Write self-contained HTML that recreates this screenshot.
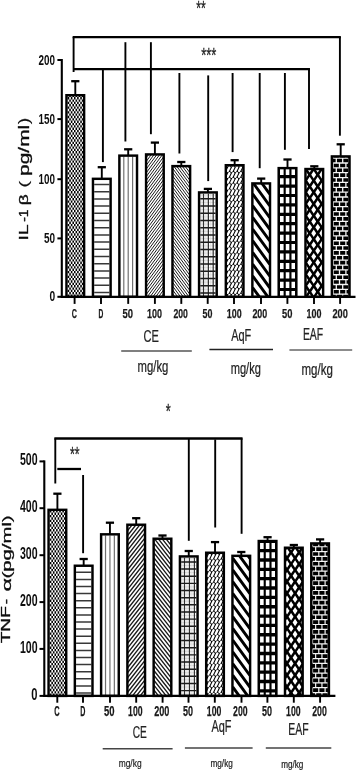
<!DOCTYPE html>
<html lang="en"><head><meta charset="utf-8"><title>IL-1β and TNF-α levels</title>
<style>html,body{margin:0;padding:0;background:#fff;}body{width:358px;height:773px;overflow:hidden;}svg{display:block;}text{font-family:"Liberation Sans", Arial, sans-serif;}</style>
</head><body>
<svg width="358" height="773" viewBox="0 0 358 773">
<defs><filter id="soft" x="0" y="0" width="358" height="773" filterUnits="userSpaceOnUse"><feGaussianBlur stdDeviation="0.5"/></filter><filter id="soft2" x="0" y="0" width="358" height="773" filterUnits="userSpaceOnUse"><feGaussianBlur stdDeviation="0.33"/></filter></defs>
<rect width="358" height="773" fill="#fff"/>
<g filter="url(#soft2)">
<rect x="65.25" y="94.00" width="20.10" height="202.80" fill="#fff"/>
<clipPath id="c1"><rect x="66.70" y="95.45" width="17.20" height="201.35"/></clipPath>
<g clip-path="url(#c1)">
<path d="M68.48,296.80V91.75 M71.62,296.80V91.75 M74.76,296.80V91.75 M77.90,296.80V91.75 M81.04,296.80V91.75" stroke="#000" stroke-width="1.57" stroke-dasharray="2.35 2.35" fill="none"/>
<path d="M70.05,296.80V91.75 M73.19,296.80V91.75 M76.33,296.80V91.75 M79.47,296.80V91.75 M82.61,296.80V91.75" stroke="#000" stroke-width="1.57" stroke-dasharray="2.35 2.35" stroke-dashoffset="2.35" fill="none"/>
</g>
<rect x="91.75" y="177.60" width="20.10" height="119.20" fill="#fff"/>
<rect x="118.15" y="154.40" width="20.10" height="142.40" fill="#fff"/>
<rect x="144.85" y="153.20" width="20.10" height="143.60" fill="#fff"/>
<clipPath id="c4"><rect x="146.30" y="154.65" width="17.20" height="142.15"/></clipPath>
<g clip-path="url(#c4)">
<path d="M146.30,153.76L163.50,130.41 M146.30,157.56L163.50,134.21 M146.30,161.36L163.50,138.01 M146.30,165.16L163.50,141.81 M146.30,168.96L163.50,145.61 M146.30,172.76L163.50,149.41 M146.30,176.56L163.50,153.21 M146.30,180.36L163.50,157.01 M146.30,184.16L163.50,160.81 M146.30,187.96L163.50,164.61 M146.30,191.76L163.50,168.41 M146.30,195.56L163.50,172.21 M146.30,199.36L163.50,176.01 M146.30,203.16L163.50,179.81 M146.30,206.96L163.50,183.61 M146.30,210.76L163.50,187.41 M146.30,214.56L163.50,191.21 M146.30,218.36L163.50,195.01 M146.30,222.16L163.50,198.81 M146.30,225.96L163.50,202.61 M146.30,229.76L163.50,206.41 M146.30,233.56L163.50,210.21 M146.30,237.36L163.50,214.01 M146.30,241.16L163.50,217.81 M146.30,244.96L163.50,221.61 M146.30,248.76L163.50,225.41 M146.30,252.56L163.50,229.21 M146.30,256.36L163.50,233.01 M146.30,260.16L163.50,236.81 M146.30,263.96L163.50,240.61 M146.30,267.76L163.50,244.41 M146.30,271.56L163.50,248.21 M146.30,275.36L163.50,252.01 M146.30,279.16L163.50,255.81 M146.30,282.96L163.50,259.61 M146.30,286.76L163.50,263.41 M146.30,290.56L163.50,267.21 M146.30,294.36L163.50,271.01 M146.30,298.16L163.50,274.81 M146.30,301.96L163.50,278.61 M146.30,305.76L163.50,282.41 M146.30,309.56L163.50,286.21 M146.30,313.36L163.50,290.01 M146.30,317.16L163.50,293.81 M146.30,320.96L163.50,297.61" stroke="#1a1a1a" stroke-width="1.0" fill="none"/>
</g>
<rect x="171.25" y="164.90" width="20.10" height="131.90" fill="#fff"/>
<clipPath id="c5"><rect x="172.70" y="166.35" width="17.20" height="130.45"/></clipPath>
<g clip-path="url(#c5)">
<path d="M172.70,145.61L189.90,168.96 M172.70,149.41L189.90,172.76 M172.70,153.21L189.90,176.56 M172.70,157.01L189.90,180.36 M172.70,160.81L189.90,184.16 M172.70,164.61L189.90,187.96 M172.70,168.41L189.90,191.76 M172.70,172.21L189.90,195.56 M172.70,176.01L189.90,199.36 M172.70,179.81L189.90,203.16 M172.70,183.61L189.90,206.96 M172.70,187.41L189.90,210.76 M172.70,191.21L189.90,214.56 M172.70,195.01L189.90,218.36 M172.70,198.81L189.90,222.16 M172.70,202.61L189.90,225.96 M172.70,206.41L189.90,229.76 M172.70,210.21L189.90,233.56 M172.70,214.01L189.90,237.36 M172.70,217.81L189.90,241.16 M172.70,221.61L189.90,244.96 M172.70,225.41L189.90,248.76 M172.70,229.21L189.90,252.56 M172.70,233.01L189.90,256.36 M172.70,236.81L189.90,260.16 M172.70,240.61L189.90,263.96 M172.70,244.41L189.90,267.76 M172.70,248.21L189.90,271.56 M172.70,252.01L189.90,275.36 M172.70,255.81L189.90,279.16 M172.70,259.61L189.90,282.96 M172.70,263.41L189.90,286.76 M172.70,267.21L189.90,290.56 M172.70,271.01L189.90,294.36 M172.70,274.81L189.90,298.16 M172.70,278.61L189.90,301.96 M172.70,282.41L189.90,305.76 M172.70,286.21L189.90,309.56 M172.70,290.01L189.90,313.36 M172.70,293.81L189.90,317.16 M172.70,297.61L189.90,320.96" stroke="#1a1a1a" stroke-width="1.0" fill="none"/>
</g>
<rect x="197.85" y="191.20" width="20.10" height="105.60" fill="#fff"/>
<rect x="224.60" y="164.00" width="20.10" height="132.80" fill="#fff"/>
<rect x="251.15" y="182.20" width="20.10" height="114.60" fill="#fff"/>
<rect x="277.45" y="166.90" width="20.10" height="129.90" fill="#fff"/>
<rect x="304.25" y="167.80" width="20.10" height="129.00" fill="#fff"/>
<rect x="330.65" y="155.20" width="20.10" height="141.60" fill="#fff"/>
<rect x="47.35" y="508.60" width="20.10" height="187.30" fill="#fff"/>
<clipPath id="c12"><rect x="48.80" y="510.05" width="17.20" height="185.85"/></clipPath>
<g clip-path="url(#c12)">
<path d="M50.58,695.90V506.35 M53.72,695.90V506.35 M56.86,695.90V506.35 M60.00,695.90V506.35 M63.14,695.90V506.35" stroke="#000" stroke-width="1.57" stroke-dasharray="2.35 2.35" fill="none"/>
<path d="M52.15,695.90V506.35 M55.29,695.90V506.35 M58.43,695.90V506.35 M61.57,695.90V506.35 M64.72,695.90V506.35" stroke="#000" stroke-width="1.57" stroke-dasharray="2.35 2.35" stroke-dashoffset="2.35" fill="none"/>
</g>
<rect x="73.62" y="564.50" width="20.10" height="131.40" fill="#fff"/>
<rect x="99.89" y="533.10" width="20.10" height="162.80" fill="#fff"/>
<rect x="126.16" y="523.50" width="20.10" height="172.40" fill="#fff"/>
<clipPath id="c15"><rect x="127.61" y="524.95" width="17.20" height="170.95"/></clipPath>
<g clip-path="url(#c15)">
<path d="M127.61,525.67L144.81,503.78 M127.61,530.57L144.81,508.68 M127.61,535.47L144.81,513.58 M127.61,540.37L144.81,518.48 M127.61,545.27L144.81,523.38 M127.61,550.17L144.81,528.28 M127.61,555.07L144.81,533.18 M127.61,559.97L144.81,538.08 M127.61,564.87L144.81,542.98 M127.61,569.77L144.81,547.88 M127.61,574.67L144.81,552.78 M127.61,579.57L144.81,557.68 M127.61,584.47L144.81,562.58 M127.61,589.37L144.81,567.48 M127.61,594.27L144.81,572.38 M127.61,599.17L144.81,577.28 M127.61,604.07L144.81,582.18 M127.61,608.97L144.81,587.08 M127.61,613.87L144.81,591.98 M127.61,618.77L144.81,596.88 M127.61,623.67L144.81,601.78 M127.61,628.57L144.81,606.68 M127.61,633.47L144.81,611.58 M127.61,638.37L144.81,616.48 M127.61,643.27L144.81,621.38 M127.61,648.17L144.81,626.28 M127.61,653.07L144.81,631.18 M127.61,657.97L144.81,636.08 M127.61,662.87L144.81,640.98 M127.61,667.77L144.81,645.88 M127.61,672.67L144.81,650.78 M127.61,677.57L144.81,655.68 M127.61,682.47L144.81,660.58 M127.61,687.37L144.81,665.48 M127.61,692.27L144.81,670.38 M127.61,697.17L144.81,675.28 M127.61,702.07L144.81,680.18 M127.61,706.97L144.81,685.08 M127.61,711.87L144.81,689.98 M127.61,716.77L144.81,694.88" stroke="#1a1a1a" stroke-width="1.35" fill="none"/>
</g>
<rect x="152.43" y="537.50" width="20.10" height="158.40" fill="#fff"/>
<clipPath id="c16"><rect x="153.88" y="538.95" width="17.20" height="156.95"/></clipPath>
<g clip-path="url(#c16)">
<path d="M153.88,518.48L171.08,540.37 M153.88,523.38L171.08,545.27 M153.88,528.28L171.08,550.17 M153.88,533.18L171.08,555.07 M153.88,538.08L171.08,559.97 M153.88,542.98L171.08,564.87 M153.88,547.88L171.08,569.77 M153.88,552.78L171.08,574.67 M153.88,557.68L171.08,579.57 M153.88,562.58L171.08,584.47 M153.88,567.48L171.08,589.37 M153.88,572.38L171.08,594.27 M153.88,577.28L171.08,599.17 M153.88,582.18L171.08,604.07 M153.88,587.08L171.08,608.97 M153.88,591.98L171.08,613.87 M153.88,596.88L171.08,618.77 M153.88,601.78L171.08,623.67 M153.88,606.68L171.08,628.57 M153.88,611.58L171.08,633.47 M153.88,616.48L171.08,638.37 M153.88,621.38L171.08,643.27 M153.88,626.28L171.08,648.17 M153.88,631.18L171.08,653.07 M153.88,636.08L171.08,657.97 M153.88,640.98L171.08,662.87 M153.88,645.88L171.08,667.77 M153.88,650.78L171.08,672.67 M153.88,655.68L171.08,677.57 M153.88,660.58L171.08,682.47 M153.88,665.48L171.08,687.37 M153.88,670.38L171.08,692.27 M153.88,675.28L171.08,697.17 M153.88,680.18L171.08,702.07 M153.88,685.08L171.08,706.97 M153.88,689.98L171.08,711.87 M153.88,694.88L171.08,716.77" stroke="#1a1a1a" stroke-width="1.35" fill="none"/>
</g>
<rect x="178.70" y="555.20" width="20.10" height="140.70" fill="#fff"/>
<rect x="204.97" y="551.50" width="20.10" height="144.40" fill="#fff"/>
<rect x="231.24" y="554.60" width="20.10" height="141.30" fill="#fff"/>
<rect x="257.51" y="539.80" width="20.10" height="156.10" fill="#fff"/>
<rect x="283.78" y="546.50" width="20.10" height="149.40" fill="#fff"/>
<rect x="310.05" y="542.20" width="20.10" height="153.70" fill="#fff"/>
</g>
<g filter="url(#soft)">
<line x1="75.30" y1="81.20" x2="75.30" y2="95.00" stroke="#000" stroke-width="1.9"/>
<line x1="71.20" y1="81.20" x2="79.40" y2="81.20" stroke="#000" stroke-width="2.3"/>
<rect x="66.47" y="95.22" width="17.65" height="201.58" fill="none" stroke="#000" stroke-width="2.45"/>
<line x1="101.80" y1="167.20" x2="101.80" y2="178.60" stroke="#000" stroke-width="1.9"/>
<line x1="97.70" y1="167.20" x2="105.90" y2="167.20" stroke="#000" stroke-width="2.3"/>
<clipPath id="c2"><rect x="93.20" y="179.05" width="17.20" height="117.75"/></clipPath>
<g clip-path="url(#c2)">
<path d="M94.20,184.50H109.40 M94.20,191.70H109.40 M94.20,198.90H109.40 M94.20,206.10H109.40 M94.20,213.30H109.40 M94.20,220.50H109.40 M94.20,227.70H109.40 M94.20,234.90H109.40 M94.20,242.10H109.40 M94.20,249.30H109.40 M94.20,256.50H109.40 M94.20,263.70H109.40 M94.20,270.90H109.40 M94.20,278.10H109.40 M94.20,285.30H109.40 M94.20,292.50H109.40" stroke="#383838" stroke-width="1.5" fill="none"/>
</g>
<rect x="92.97" y="178.82" width="17.65" height="117.98" fill="none" stroke="#000" stroke-width="2.45"/>
<line x1="128.20" y1="149.30" x2="128.20" y2="155.40" stroke="#000" stroke-width="1.9"/>
<line x1="124.10" y1="149.30" x2="132.30" y2="149.30" stroke="#000" stroke-width="2.3"/>
<clipPath id="c3"><rect x="119.60" y="155.85" width="17.20" height="140.95"/></clipPath>
<g clip-path="url(#c3)">
<path d="M123.79,156.85V296.80 M128.20,156.85V296.80 M132.61,156.85V296.80" stroke="#707070" stroke-width="1.2" fill="none"/>
</g>
<rect x="119.37" y="155.62" width="17.65" height="141.18" fill="none" stroke="#000" stroke-width="2.45"/>
<line x1="154.90" y1="142.60" x2="154.90" y2="154.20" stroke="#000" stroke-width="1.9"/>
<line x1="150.80" y1="142.60" x2="159.00" y2="142.60" stroke="#000" stroke-width="2.3"/>
<rect x="146.07" y="154.42" width="17.65" height="142.38" fill="none" stroke="#000" stroke-width="2.45"/>
<line x1="181.30" y1="162.00" x2="181.30" y2="165.90" stroke="#000" stroke-width="1.9"/>
<line x1="177.20" y1="162.00" x2="185.40" y2="162.00" stroke="#000" stroke-width="2.3"/>
<rect x="172.47" y="166.12" width="17.65" height="130.68" fill="none" stroke="#000" stroke-width="2.45"/>
<line x1="207.90" y1="188.90" x2="207.90" y2="192.20" stroke="#000" stroke-width="1.9"/>
<line x1="203.80" y1="188.90" x2="212.00" y2="188.90" stroke="#000" stroke-width="2.3"/>
<clipPath id="c6"><rect x="199.30" y="192.65" width="17.20" height="104.15"/></clipPath>
<g clip-path="url(#c6)">
<path d="M201.07,193.65V296.80 M205.92,193.65V296.80 M210.77,193.65V296.80" stroke="#cfcfcf" stroke-width="0.8" fill="none"/>
<path d="M200.30,195.12H215.50 M200.30,202.38H215.50 M200.30,209.62H215.50 M200.30,216.88H215.50 M200.30,224.12H215.50 M200.30,231.38H215.50 M200.30,238.62H215.50 M200.30,245.88H215.50 M200.30,253.12H215.50 M200.30,260.38H215.50 M200.30,267.62H215.50 M200.30,274.88H215.50 M200.30,282.12H215.50 M200.30,289.38H215.50 M200.30,296.62H215.50" stroke="#d6d6d6" stroke-width="0.8" fill="none"/>
<path d="M203.50,193.65V296.80 M208.35,193.65V296.80 M213.20,193.65V296.80" stroke="#333" stroke-width="1.25" fill="none"/>
<path d="M200.30,198.75H215.50 M200.30,206.00H215.50 M200.30,213.25H215.50 M200.30,220.50H215.50 M200.30,227.75H215.50 M200.30,235.00H215.50 M200.30,242.25H215.50 M200.30,249.50H215.50 M200.30,256.75H215.50 M200.30,264.00H215.50 M200.30,271.25H215.50 M200.30,278.50H215.50 M200.30,285.75H215.50 M200.30,293.00H215.50" stroke="#1a1a1a" stroke-width="1.45" fill="none"/>
</g>
<rect x="199.07" y="192.42" width="17.65" height="104.38" fill="none" stroke="#000" stroke-width="2.45"/>
<line x1="234.65" y1="160.20" x2="234.65" y2="165.00" stroke="#000" stroke-width="1.9"/>
<line x1="230.55" y1="160.20" x2="238.75" y2="160.20" stroke="#000" stroke-width="2.3"/>
<clipPath id="c7"><rect x="226.05" y="165.45" width="17.20" height="131.35"/></clipPath>
<g clip-path="url(#c7)">
<rect x="226.05" y="165.45" width="17.20" height="131.35" fill="#000"/>
<path d="M223.89,165.20l1.71,-3.60 M227.69,165.20l1.71,-3.60 M231.49,165.20l1.71,-3.60 M235.29,165.20l1.71,-3.60 M239.09,165.20l1.71,-3.60 M242.89,165.20l1.71,-3.60 M223.89,171.00l1.71,-3.60 M227.69,171.00l1.71,-3.60 M231.49,171.00l1.71,-3.60 M235.29,171.00l1.71,-3.60 M239.09,171.00l1.71,-3.60 M242.89,171.00l1.71,-3.60 M223.89,176.80l1.71,-3.60 M227.69,176.80l1.71,-3.60 M231.49,176.80l1.71,-3.60 M235.29,176.80l1.71,-3.60 M239.09,176.80l1.71,-3.60 M242.89,176.80l1.71,-3.60 M223.89,182.60l1.71,-3.60 M227.69,182.60l1.71,-3.60 M231.49,182.60l1.71,-3.60 M235.29,182.60l1.71,-3.60 M239.09,182.60l1.71,-3.60 M242.89,182.60l1.71,-3.60 M223.89,188.40l1.71,-3.60 M227.69,188.40l1.71,-3.60 M231.49,188.40l1.71,-3.60 M235.29,188.40l1.71,-3.60 M239.09,188.40l1.71,-3.60 M242.89,188.40l1.71,-3.60 M223.89,194.20l1.71,-3.60 M227.69,194.20l1.71,-3.60 M231.49,194.20l1.71,-3.60 M235.29,194.20l1.71,-3.60 M239.09,194.20l1.71,-3.60 M242.89,194.20l1.71,-3.60 M223.89,200.00l1.71,-3.60 M227.69,200.00l1.71,-3.60 M231.49,200.00l1.71,-3.60 M235.29,200.00l1.71,-3.60 M239.09,200.00l1.71,-3.60 M242.89,200.00l1.71,-3.60 M223.89,205.80l1.71,-3.60 M227.69,205.80l1.71,-3.60 M231.49,205.80l1.71,-3.60 M235.29,205.80l1.71,-3.60 M239.09,205.80l1.71,-3.60 M242.89,205.80l1.71,-3.60 M223.89,211.60l1.71,-3.60 M227.69,211.60l1.71,-3.60 M231.49,211.60l1.71,-3.60 M235.29,211.60l1.71,-3.60 M239.09,211.60l1.71,-3.60 M242.89,211.60l1.71,-3.60 M223.89,217.40l1.71,-3.60 M227.69,217.40l1.71,-3.60 M231.49,217.40l1.71,-3.60 M235.29,217.40l1.71,-3.60 M239.09,217.40l1.71,-3.60 M242.89,217.40l1.71,-3.60 M223.89,223.20l1.71,-3.60 M227.69,223.20l1.71,-3.60 M231.49,223.20l1.71,-3.60 M235.29,223.20l1.71,-3.60 M239.09,223.20l1.71,-3.60 M242.89,223.20l1.71,-3.60 M223.89,229.00l1.71,-3.60 M227.69,229.00l1.71,-3.60 M231.49,229.00l1.71,-3.60 M235.29,229.00l1.71,-3.60 M239.09,229.00l1.71,-3.60 M242.89,229.00l1.71,-3.60 M223.89,234.80l1.71,-3.60 M227.69,234.80l1.71,-3.60 M231.49,234.80l1.71,-3.60 M235.29,234.80l1.71,-3.60 M239.09,234.80l1.71,-3.60 M242.89,234.80l1.71,-3.60 M223.89,240.60l1.71,-3.60 M227.69,240.60l1.71,-3.60 M231.49,240.60l1.71,-3.60 M235.29,240.60l1.71,-3.60 M239.09,240.60l1.71,-3.60 M242.89,240.60l1.71,-3.60 M223.89,246.40l1.71,-3.60 M227.69,246.40l1.71,-3.60 M231.49,246.40l1.71,-3.60 M235.29,246.40l1.71,-3.60 M239.09,246.40l1.71,-3.60 M242.89,246.40l1.71,-3.60 M223.89,252.20l1.71,-3.60 M227.69,252.20l1.71,-3.60 M231.49,252.20l1.71,-3.60 M235.29,252.20l1.71,-3.60 M239.09,252.20l1.71,-3.60 M242.89,252.20l1.71,-3.60 M223.89,258.00l1.71,-3.60 M227.69,258.00l1.71,-3.60 M231.49,258.00l1.71,-3.60 M235.29,258.00l1.71,-3.60 M239.09,258.00l1.71,-3.60 M242.89,258.00l1.71,-3.60 M223.89,263.80l1.71,-3.60 M227.69,263.80l1.71,-3.60 M231.49,263.80l1.71,-3.60 M235.29,263.80l1.71,-3.60 M239.09,263.80l1.71,-3.60 M242.89,263.80l1.71,-3.60 M223.89,269.60l1.71,-3.60 M227.69,269.60l1.71,-3.60 M231.49,269.60l1.71,-3.60 M235.29,269.60l1.71,-3.60 M239.09,269.60l1.71,-3.60 M242.89,269.60l1.71,-3.60 M223.89,275.40l1.71,-3.60 M227.69,275.40l1.71,-3.60 M231.49,275.40l1.71,-3.60 M235.29,275.40l1.71,-3.60 M239.09,275.40l1.71,-3.60 M242.89,275.40l1.71,-3.60 M223.89,281.20l1.71,-3.60 M227.69,281.20l1.71,-3.60 M231.49,281.20l1.71,-3.60 M235.29,281.20l1.71,-3.60 M239.09,281.20l1.71,-3.60 M242.89,281.20l1.71,-3.60 M223.89,287.00l1.71,-3.60 M227.69,287.00l1.71,-3.60 M231.49,287.00l1.71,-3.60 M235.29,287.00l1.71,-3.60 M239.09,287.00l1.71,-3.60 M242.89,287.00l1.71,-3.60 M223.89,292.80l1.71,-3.60 M227.69,292.80l1.71,-3.60 M231.49,292.80l1.71,-3.60 M235.29,292.80l1.71,-3.60 M239.09,292.80l1.71,-3.60 M242.89,292.80l1.71,-3.60 M223.89,298.60l1.71,-3.60 M227.69,298.60l1.71,-3.60 M231.49,298.60l1.71,-3.60 M235.29,298.60l1.71,-3.60 M239.09,298.60l1.71,-3.60 M242.89,298.60l1.71,-3.60 M223.89,304.40l1.71,-3.60 M227.69,304.40l1.71,-3.60 M231.49,304.40l1.71,-3.60 M235.29,304.40l1.71,-3.60 M239.09,304.40l1.71,-3.60 M242.89,304.40l1.71,-3.60" stroke="#fff" stroke-width="2.4" stroke-linecap="round" fill="none"/>
</g>
<rect x="225.82" y="165.22" width="17.65" height="131.58" fill="none" stroke="#000" stroke-width="2.45"/>
<line x1="261.20" y1="178.60" x2="261.20" y2="183.20" stroke="#000" stroke-width="1.9"/>
<line x1="257.10" y1="178.60" x2="265.30" y2="178.60" stroke="#000" stroke-width="2.3"/>
<clipPath id="c8"><rect x="252.60" y="183.65" width="17.20" height="113.15"/></clipPath>
<g clip-path="url(#c8)">
<path d="M252.60,170.50L269.80,194.18 M252.60,182.20L269.80,205.88 M252.60,193.90L269.80,217.58 M252.60,205.60L269.80,229.28 M252.60,217.30L269.80,240.98 M252.60,229.00L269.80,252.68 M252.60,240.70L269.80,264.38 M252.60,252.40L269.80,276.08 M252.60,264.10L269.80,287.78 M252.60,275.80L269.80,299.48 M252.60,287.50L269.80,311.18" stroke="#000" stroke-width="2.9" fill="none"/>
</g>
<rect x="252.37" y="183.42" width="17.65" height="113.38" fill="none" stroke="#000" stroke-width="2.45"/>
<line x1="287.50" y1="159.50" x2="287.50" y2="167.90" stroke="#000" stroke-width="1.9"/>
<line x1="283.40" y1="159.50" x2="291.60" y2="159.50" stroke="#000" stroke-width="2.3"/>
<clipPath id="c9"><rect x="278.90" y="168.35" width="17.20" height="128.45"/></clipPath>
<g clip-path="url(#c9)">
<rect x="278.90" y="168.35" width="17.20" height="128.45" fill="#000"/>
<path d="M280.00,168.90h3.6v6.2h-3.6z M285.75,168.90h3.6v6.2h-3.6z M291.50,168.90h3.6v6.2h-3.6z M280.00,178.30h3.6v6.2h-3.6z M285.75,178.30h3.6v6.2h-3.6z M291.50,178.30h3.6v6.2h-3.6z M280.00,187.70h3.6v6.2h-3.6z M285.75,187.70h3.6v6.2h-3.6z M291.50,187.70h3.6v6.2h-3.6z M280.00,197.10h3.6v6.2h-3.6z M285.75,197.10h3.6v6.2h-3.6z M291.50,197.10h3.6v6.2h-3.6z M280.00,206.50h3.6v6.2h-3.6z M285.75,206.50h3.6v6.2h-3.6z M291.50,206.50h3.6v6.2h-3.6z M280.00,215.90h3.6v6.2h-3.6z M285.75,215.90h3.6v6.2h-3.6z M291.50,215.90h3.6v6.2h-3.6z M280.00,225.30h3.6v6.2h-3.6z M285.75,225.30h3.6v6.2h-3.6z M291.50,225.30h3.6v6.2h-3.6z M280.00,234.70h3.6v6.2h-3.6z M285.75,234.70h3.6v6.2h-3.6z M291.50,234.70h3.6v6.2h-3.6z M280.00,244.10h3.6v6.2h-3.6z M285.75,244.10h3.6v6.2h-3.6z M291.50,244.10h3.6v6.2h-3.6z M280.00,253.50h3.6v6.2h-3.6z M285.75,253.50h3.6v6.2h-3.6z M291.50,253.50h3.6v6.2h-3.6z M280.00,262.90h3.6v6.2h-3.6z M285.75,262.90h3.6v6.2h-3.6z M291.50,262.90h3.6v6.2h-3.6z M280.00,272.30h3.6v6.2h-3.6z M285.75,272.30h3.6v6.2h-3.6z M291.50,272.30h3.6v6.2h-3.6z M280.00,281.70h3.6v6.2h-3.6z M285.75,281.70h3.6v6.2h-3.6z M291.50,281.70h3.6v6.2h-3.6z M280.00,291.10h3.6v6.2h-3.6z M285.75,291.10h3.6v6.2h-3.6z M291.50,291.10h3.6v6.2h-3.6z" fill="#fff"/>
</g>
<rect x="278.68" y="168.12" width="17.65" height="128.68" fill="none" stroke="#000" stroke-width="2.45"/>
<line x1="314.30" y1="166.30" x2="314.30" y2="168.80" stroke="#000" stroke-width="1.9"/>
<line x1="310.20" y1="166.30" x2="318.40" y2="166.30" stroke="#000" stroke-width="2.3"/>
<clipPath id="c10"><rect x="305.70" y="169.25" width="17.20" height="127.55"/></clipPath>
<g clip-path="url(#c10)">
<rect x="305.70" y="169.25" width="17.20" height="127.55" fill="#000"/>
<path d="M305.65,159.30L308.10,163.00L305.65,166.70L303.20,163.00Z M309.67,165.15L312.12,168.85L309.67,172.55L307.22,168.85Z M313.70,159.30L316.15,163.00L313.70,166.70L311.25,163.00Z M317.72,165.15L320.17,168.85L317.72,172.55L315.27,168.85Z M321.75,159.30L324.20,163.00L321.75,166.70L319.30,163.00Z M325.77,165.15L328.22,168.85L325.77,172.55L323.32,168.85Z M305.65,171.00L308.10,174.70L305.65,178.40L303.20,174.70Z M309.67,176.85L312.12,180.55L309.67,184.25L307.22,180.55Z M313.70,171.00L316.15,174.70L313.70,178.40L311.25,174.70Z M317.72,176.85L320.17,180.55L317.72,184.25L315.27,180.55Z M321.75,171.00L324.20,174.70L321.75,178.40L319.30,174.70Z M325.77,176.85L328.22,180.55L325.77,184.25L323.32,180.55Z M305.65,182.70L308.10,186.40L305.65,190.10L303.20,186.40Z M309.67,188.55L312.12,192.25L309.67,195.95L307.22,192.25Z M313.70,182.70L316.15,186.40L313.70,190.10L311.25,186.40Z M317.72,188.55L320.17,192.25L317.72,195.95L315.27,192.25Z M321.75,182.70L324.20,186.40L321.75,190.10L319.30,186.40Z M325.77,188.55L328.22,192.25L325.77,195.95L323.32,192.25Z M305.65,194.40L308.10,198.10L305.65,201.80L303.20,198.10Z M309.67,200.25L312.12,203.95L309.67,207.65L307.22,203.95Z M313.70,194.40L316.15,198.10L313.70,201.80L311.25,198.10Z M317.72,200.25L320.17,203.95L317.72,207.65L315.27,203.95Z M321.75,194.40L324.20,198.10L321.75,201.80L319.30,198.10Z M325.77,200.25L328.22,203.95L325.77,207.65L323.32,203.95Z M305.65,206.10L308.10,209.80L305.65,213.50L303.20,209.80Z M309.67,211.95L312.12,215.65L309.67,219.35L307.22,215.65Z M313.70,206.10L316.15,209.80L313.70,213.50L311.25,209.80Z M317.72,211.95L320.17,215.65L317.72,219.35L315.27,215.65Z M321.75,206.10L324.20,209.80L321.75,213.50L319.30,209.80Z M325.77,211.95L328.22,215.65L325.77,219.35L323.32,215.65Z M305.65,217.80L308.10,221.50L305.65,225.20L303.20,221.50Z M309.67,223.65L312.12,227.35L309.67,231.05L307.22,227.35Z M313.70,217.80L316.15,221.50L313.70,225.20L311.25,221.50Z M317.72,223.65L320.17,227.35L317.72,231.05L315.27,227.35Z M321.75,217.80L324.20,221.50L321.75,225.20L319.30,221.50Z M325.77,223.65L328.22,227.35L325.77,231.05L323.32,227.35Z M305.65,229.50L308.10,233.20L305.65,236.90L303.20,233.20Z M309.67,235.35L312.12,239.05L309.67,242.75L307.22,239.05Z M313.70,229.50L316.15,233.20L313.70,236.90L311.25,233.20Z M317.72,235.35L320.17,239.05L317.72,242.75L315.27,239.05Z M321.75,229.50L324.20,233.20L321.75,236.90L319.30,233.20Z M325.77,235.35L328.22,239.05L325.77,242.75L323.32,239.05Z M305.65,241.20L308.10,244.90L305.65,248.60L303.20,244.90Z M309.67,247.05L312.12,250.75L309.67,254.45L307.22,250.75Z M313.70,241.20L316.15,244.90L313.70,248.60L311.25,244.90Z M317.72,247.05L320.17,250.75L317.72,254.45L315.27,250.75Z M321.75,241.20L324.20,244.90L321.75,248.60L319.30,244.90Z M325.77,247.05L328.22,250.75L325.77,254.45L323.32,250.75Z M305.65,252.90L308.10,256.60L305.65,260.30L303.20,256.60Z M309.67,258.75L312.12,262.45L309.67,266.15L307.22,262.45Z M313.70,252.90L316.15,256.60L313.70,260.30L311.25,256.60Z M317.72,258.75L320.17,262.45L317.72,266.15L315.27,262.45Z M321.75,252.90L324.20,256.60L321.75,260.30L319.30,256.60Z M325.77,258.75L328.22,262.45L325.77,266.15L323.32,262.45Z M305.65,264.60L308.10,268.30L305.65,272.00L303.20,268.30Z M309.67,270.45L312.12,274.15L309.67,277.85L307.22,274.15Z M313.70,264.60L316.15,268.30L313.70,272.00L311.25,268.30Z M317.72,270.45L320.17,274.15L317.72,277.85L315.27,274.15Z M321.75,264.60L324.20,268.30L321.75,272.00L319.30,268.30Z M325.77,270.45L328.22,274.15L325.77,277.85L323.32,274.15Z M305.65,276.30L308.10,280.00L305.65,283.70L303.20,280.00Z M309.67,282.15L312.12,285.85L309.67,289.55L307.22,285.85Z M313.70,276.30L316.15,280.00L313.70,283.70L311.25,280.00Z M317.72,282.15L320.17,285.85L317.72,289.55L315.27,285.85Z M321.75,276.30L324.20,280.00L321.75,283.70L319.30,280.00Z M325.77,282.15L328.22,285.85L325.77,289.55L323.32,285.85Z M305.65,288.00L308.10,291.70L305.65,295.40L303.20,291.70Z M309.67,293.85L312.12,297.55L309.67,301.25L307.22,297.55Z M313.70,288.00L316.15,291.70L313.70,295.40L311.25,291.70Z M317.72,293.85L320.17,297.55L317.72,301.25L315.27,297.55Z M321.75,288.00L324.20,291.70L321.75,295.40L319.30,291.70Z M325.77,293.85L328.22,297.55L325.77,301.25L323.32,297.55Z M305.65,299.70L308.10,303.40L305.65,307.10L303.20,303.40Z M309.67,305.55L312.12,309.25L309.67,312.95L307.22,309.25Z M313.70,299.70L316.15,303.40L313.70,307.10L311.25,303.40Z M317.72,305.55L320.17,309.25L317.72,312.95L315.27,309.25Z M321.75,299.70L324.20,303.40L321.75,307.10L319.30,303.40Z M325.77,305.55L328.22,309.25L325.77,312.95L323.32,309.25Z" fill="#fff"/>
</g>
<rect x="305.48" y="169.03" width="17.65" height="127.78" fill="none" stroke="#000" stroke-width="2.45"/>
<line x1="340.70" y1="144.30" x2="340.70" y2="156.20" stroke="#000" stroke-width="1.9"/>
<line x1="336.60" y1="144.30" x2="344.80" y2="144.30" stroke="#000" stroke-width="2.3"/>
<clipPath id="c11"><rect x="332.10" y="156.65" width="17.20" height="140.15"/></clipPath>
<g clip-path="url(#c11)">
<rect x="332.10" y="156.65" width="17.20" height="140.15" fill="#000"/>
<path d="M333.10,153.26H348.30 M333.10,158.12H348.30 M333.10,162.98H348.30 M333.10,167.84H348.30 M333.10,172.70H348.30 M333.10,177.56H348.30 M333.10,182.42H348.30 M333.10,187.28H348.30 M333.10,192.14H348.30 M333.10,197.00H348.30 M333.10,201.86H348.30 M333.10,206.72H348.30 M333.10,211.58H348.30 M333.10,216.44H348.30 M333.10,221.30H348.30 M333.10,226.16H348.30 M333.10,231.02H348.30 M333.10,235.88H348.30 M333.10,240.74H348.30 M333.10,245.60H348.30 M333.10,250.46H348.30 M333.10,255.32H348.30 M333.10,260.18H348.30 M333.10,265.04H348.30 M333.10,269.90H348.30 M333.10,274.76H348.30 M333.10,279.62H348.30 M333.10,284.48H348.30 M333.10,289.34H348.30 M333.10,294.20H348.30" stroke="#f4f4f4" stroke-width="1.3" fill="none"/>
<path d="M326.70,153.26v4.86 M333.10,153.26v4.86 M339.50,153.26v4.86 M345.90,153.26v4.86 M352.30,153.26v4.86 M329.90,158.12v4.86 M336.30,158.12v4.86 M342.70,158.12v4.86 M349.10,158.12v4.86 M326.70,162.98v4.86 M333.10,162.98v4.86 M339.50,162.98v4.86 M345.90,162.98v4.86 M352.30,162.98v4.86 M329.90,167.84v4.86 M336.30,167.84v4.86 M342.70,167.84v4.86 M349.10,167.84v4.86 M326.70,172.70v4.86 M333.10,172.70v4.86 M339.50,172.70v4.86 M345.90,172.70v4.86 M352.30,172.70v4.86 M329.90,177.56v4.86 M336.30,177.56v4.86 M342.70,177.56v4.86 M349.10,177.56v4.86 M326.70,182.42v4.86 M333.10,182.42v4.86 M339.50,182.42v4.86 M345.90,182.42v4.86 M352.30,182.42v4.86 M329.90,187.28v4.86 M336.30,187.28v4.86 M342.70,187.28v4.86 M349.10,187.28v4.86 M326.70,192.14v4.86 M333.10,192.14v4.86 M339.50,192.14v4.86 M345.90,192.14v4.86 M352.30,192.14v4.86 M329.90,197.00v4.86 M336.30,197.00v4.86 M342.70,197.00v4.86 M349.10,197.00v4.86 M326.70,201.86v4.86 M333.10,201.86v4.86 M339.50,201.86v4.86 M345.90,201.86v4.86 M352.30,201.86v4.86 M329.90,206.72v4.86 M336.30,206.72v4.86 M342.70,206.72v4.86 M349.10,206.72v4.86 M326.70,211.58v4.86 M333.10,211.58v4.86 M339.50,211.58v4.86 M345.90,211.58v4.86 M352.30,211.58v4.86 M329.90,216.44v4.86 M336.30,216.44v4.86 M342.70,216.44v4.86 M349.10,216.44v4.86 M326.70,221.30v4.86 M333.10,221.30v4.86 M339.50,221.30v4.86 M345.90,221.30v4.86 M352.30,221.30v4.86 M329.90,226.16v4.86 M336.30,226.16v4.86 M342.70,226.16v4.86 M349.10,226.16v4.86 M326.70,231.02v4.86 M333.10,231.02v4.86 M339.50,231.02v4.86 M345.90,231.02v4.86 M352.30,231.02v4.86 M329.90,235.88v4.86 M336.30,235.88v4.86 M342.70,235.88v4.86 M349.10,235.88v4.86 M326.70,240.74v4.86 M333.10,240.74v4.86 M339.50,240.74v4.86 M345.90,240.74v4.86 M352.30,240.74v4.86 M329.90,245.60v4.86 M336.30,245.60v4.86 M342.70,245.60v4.86 M349.10,245.60v4.86 M326.70,250.46v4.86 M333.10,250.46v4.86 M339.50,250.46v4.86 M345.90,250.46v4.86 M352.30,250.46v4.86 M329.90,255.32v4.86 M336.30,255.32v4.86 M342.70,255.32v4.86 M349.10,255.32v4.86 M326.70,260.18v4.86 M333.10,260.18v4.86 M339.50,260.18v4.86 M345.90,260.18v4.86 M352.30,260.18v4.86 M329.90,265.04v4.86 M336.30,265.04v4.86 M342.70,265.04v4.86 M349.10,265.04v4.86 M326.70,269.90v4.86 M333.10,269.90v4.86 M339.50,269.90v4.86 M345.90,269.90v4.86 M352.30,269.90v4.86 M329.90,274.76v4.86 M336.30,274.76v4.86 M342.70,274.76v4.86 M349.10,274.76v4.86 M326.70,279.62v4.86 M333.10,279.62v4.86 M339.50,279.62v4.86 M345.90,279.62v4.86 M352.30,279.62v4.86 M329.90,284.48v4.86 M336.30,284.48v4.86 M342.70,284.48v4.86 M349.10,284.48v4.86 M326.70,289.34v4.86 M333.10,289.34v4.86 M339.50,289.34v4.86 M345.90,289.34v4.86 M352.30,289.34v4.86 M329.90,294.20v4.86 M336.30,294.20v4.86 M342.70,294.20v4.86 M349.10,294.20v4.86" stroke="#f4f4f4" stroke-width="1.3" fill="none"/>
</g>
<rect x="331.88" y="156.42" width="17.65" height="140.38" fill="none" stroke="#000" stroke-width="2.45"/>
<line x1="61.80" y1="59.00" x2="61.80" y2="297.90" stroke="#000" stroke-width="2.1"/>
<line x1="60.75" y1="296.80" x2="355.50" y2="296.80" stroke="#000" stroke-width="2.3"/>
<line x1="57.40" y1="60.00" x2="61.80" y2="60.00" stroke="#000" stroke-width="2.0"/>
<line x1="57.40" y1="119.10" x2="61.80" y2="119.10" stroke="#000" stroke-width="2.0"/>
<line x1="57.40" y1="179.20" x2="61.80" y2="179.20" stroke="#000" stroke-width="2.0"/>
<line x1="57.40" y1="238.40" x2="61.80" y2="238.40" stroke="#000" stroke-width="2.0"/>
<line x1="57.40" y1="296.80" x2="61.80" y2="296.80" stroke="#000" stroke-width="2.0"/>
<line x1="74.60" y1="296.80" x2="74.60" y2="303.90" stroke="#000" stroke-width="1.9"/>
<line x1="101.00" y1="296.80" x2="101.00" y2="303.90" stroke="#000" stroke-width="1.9"/>
<line x1="128.20" y1="296.80" x2="128.20" y2="303.90" stroke="#000" stroke-width="1.9"/>
<line x1="154.90" y1="296.80" x2="154.90" y2="303.90" stroke="#000" stroke-width="1.9"/>
<line x1="181.30" y1="296.80" x2="181.30" y2="303.90" stroke="#000" stroke-width="1.9"/>
<line x1="207.70" y1="296.80" x2="207.70" y2="303.90" stroke="#000" stroke-width="1.9"/>
<line x1="234.00" y1="296.80" x2="234.00" y2="303.90" stroke="#000" stroke-width="1.9"/>
<line x1="261.00" y1="296.80" x2="261.00" y2="303.90" stroke="#000" stroke-width="1.9"/>
<line x1="287.40" y1="296.80" x2="287.40" y2="303.90" stroke="#000" stroke-width="1.9"/>
<line x1="314.00" y1="296.80" x2="314.00" y2="303.90" stroke="#000" stroke-width="1.9"/>
<line x1="340.10" y1="296.80" x2="340.10" y2="303.90" stroke="#000" stroke-width="1.9"/>
<text x="38.60" y="64.50" font-size="15.30" font-weight="bold" fill="#111" textLength="16.50" lengthAdjust="spacingAndGlyphs">200</text>
<text x="38.60" y="123.60" font-size="15.30" font-weight="bold" fill="#111" textLength="16.50" lengthAdjust="spacingAndGlyphs">150</text>
<text x="38.60" y="183.70" font-size="15.30" font-weight="bold" fill="#111" textLength="16.50" lengthAdjust="spacingAndGlyphs">100</text>
<text x="44.00" y="242.90" font-size="15.30" font-weight="bold" fill="#111" textLength="11.10" lengthAdjust="spacingAndGlyphs">50</text>
<text x="49.40" y="301.30" font-size="15.30" font-weight="bold" fill="#111" textLength="5.70" lengthAdjust="spacingAndGlyphs">0</text>
<text x="71.80" y="317.70" font-size="13.70" font-weight="bold" fill="#1a1a1a" textLength="5.20" lengthAdjust="spacingAndGlyphs" stroke="#1a1a1a" stroke-width="0.25">C</text>
<text x="98.40" y="317.70" font-size="13.70" font-weight="bold" fill="#1a1a1a" textLength="4.80" lengthAdjust="spacingAndGlyphs" stroke="#1a1a1a" stroke-width="0.25">D</text>
<text x="122.40" y="317.70" font-size="13.70" font-weight="bold" fill="#1a1a1a" textLength="10.50" lengthAdjust="spacingAndGlyphs" stroke="#1a1a1a" stroke-width="0.25">50</text>
<text x="147.00" y="317.70" font-size="13.70" font-weight="bold" fill="#1a1a1a" textLength="15.00" lengthAdjust="spacingAndGlyphs" stroke="#1a1a1a" stroke-width="0.25">100</text>
<text x="173.40" y="317.70" font-size="13.70" font-weight="bold" fill="#1a1a1a" textLength="14.50" lengthAdjust="spacingAndGlyphs" stroke="#1a1a1a" stroke-width="0.25">200</text>
<text x="202.60" y="317.70" font-size="13.70" font-weight="bold" fill="#1a1a1a" textLength="9.90" lengthAdjust="spacingAndGlyphs" stroke="#1a1a1a" stroke-width="0.25">50</text>
<text x="226.80" y="317.70" font-size="13.70" font-weight="bold" fill="#1a1a1a" textLength="14.90" lengthAdjust="spacingAndGlyphs" stroke="#1a1a1a" stroke-width="0.25">100</text>
<text x="252.40" y="317.70" font-size="13.70" font-weight="bold" fill="#1a1a1a" textLength="14.90" lengthAdjust="spacingAndGlyphs" stroke="#1a1a1a" stroke-width="0.25">200</text>
<text x="282.10" y="317.70" font-size="13.70" font-weight="bold" fill="#1a1a1a" textLength="10.40" lengthAdjust="spacingAndGlyphs" stroke="#1a1a1a" stroke-width="0.25">50</text>
<text x="306.50" y="317.70" font-size="13.70" font-weight="bold" fill="#1a1a1a" textLength="14.90" lengthAdjust="spacingAndGlyphs" stroke="#1a1a1a" stroke-width="0.25">100</text>
<text x="332.40" y="317.70" font-size="13.70" font-weight="bold" fill="#1a1a1a" textLength="15.40" lengthAdjust="spacingAndGlyphs" stroke="#1a1a1a" stroke-width="0.25">200</text>
<text x="143.60" y="342.20" font-size="16.60" font-weight="normal" fill="#222" textLength="15.40" lengthAdjust="spacingAndGlyphs" stroke="#222" stroke-width="0.22">CE</text>
<text x="231.20" y="340.50" font-size="16.20" font-weight="normal" fill="#222" textLength="20.10" lengthAdjust="spacingAndGlyphs" stroke="#222" stroke-width="0.22">AqF</text>
<text x="302.90" y="340.10" font-size="15.80" font-weight="normal" fill="#222" textLength="20.30" lengthAdjust="spacingAndGlyphs" stroke="#222" stroke-width="0.22">EAF</text>
<line x1="121.20" y1="350.90" x2="191.80" y2="350.90" stroke="#555" stroke-width="1.5"/>
<line x1="209.40" y1="349.50" x2="273.00" y2="349.50" stroke="#222" stroke-width="1.6"/>
<line x1="289.40" y1="349.90" x2="352.20" y2="349.90" stroke="#666" stroke-width="1.5"/>
<text x="137.60" y="372.20" font-size="16.00" font-weight="normal" fill="#222" textLength="30.80" lengthAdjust="spacingAndGlyphs" stroke="#222" stroke-width="0.22">mg/kg</text>
<text x="230.70" y="374.00" font-size="16.00" font-weight="normal" fill="#222" textLength="30.20" lengthAdjust="spacingAndGlyphs" stroke="#222" stroke-width="0.22">mg/kg</text>
<text x="301.50" y="375.00" font-size="16.00" font-weight="normal" fill="#222" textLength="31.40" lengthAdjust="spacingAndGlyphs" stroke="#222" stroke-width="0.22">mg/kg</text>
<line x1="72.65" y1="37.10" x2="340.85" y2="37.10" stroke="#000" stroke-width="2.3"/>
<line x1="73.60" y1="37.00" x2="73.60" y2="72.00" stroke="#000" stroke-width="1.9"/>
<line x1="339.90" y1="37.00" x2="339.90" y2="135.70" stroke="#000" stroke-width="1.9"/>
<line x1="73.00" y1="69.20" x2="309.95" y2="69.20" stroke="#000" stroke-width="2.3"/>
<line x1="309.00" y1="68.40" x2="309.00" y2="149.00" stroke="#000" stroke-width="1.9"/>
<line x1="102.90" y1="68.40" x2="102.90" y2="162.10" stroke="#000" stroke-width="1.9"/>
<line x1="125.40" y1="42.20" x2="125.40" y2="141.50" stroke="#000" stroke-width="1.9"/>
<line x1="150.90" y1="42.20" x2="150.90" y2="134.20" stroke="#000" stroke-width="1.9"/>
<line x1="179.40" y1="73.00" x2="179.40" y2="153.50" stroke="#000" stroke-width="1.9"/>
<line x1="208.20" y1="75.40" x2="208.20" y2="181.10" stroke="#000" stroke-width="1.9"/>
<line x1="232.60" y1="73.00" x2="232.60" y2="152.10" stroke="#000" stroke-width="1.9"/>
<line x1="259.70" y1="73.00" x2="259.70" y2="168.20" stroke="#000" stroke-width="1.9"/>
<line x1="284.90" y1="73.00" x2="284.90" y2="149.80" stroke="#000" stroke-width="1.9"/>
<text x="196.30" y="15.10" font-size="21.00" font-weight="normal" fill="#222" textLength="9.50" lengthAdjust="spacingAndGlyphs" stroke="#222" stroke-width="0.28">**</text>
<text x="201.20" y="61.80" font-size="21.00" font-weight="normal" fill="#222" textLength="15.20" lengthAdjust="spacingAndGlyphs" stroke="#222" stroke-width="0.28">***</text>
<text transform="translate(28.00,240.40) rotate(-90)" fill="#111" stroke="#111" xml:space="preserve"><tspan x="0.00" y="0.00" font-size="13.40" stroke-width="0.32" textLength="16.00" lengthAdjust="spacingAndGlyphs">IL</tspan><tspan x="18.60" y="0.00" font-size="13.40" stroke-width="0.32" textLength="12.40" lengthAdjust="spacingAndGlyphs">-1</tspan> <tspan x="35.10" y="0.00" font-size="13.40" stroke-width="0.32" textLength="11.10" lengthAdjust="spacingAndGlyphs">β</tspan> <tspan x="52.60" y="0.00" font-size="13.40" stroke-width="0.1" textLength="7.10" lengthAdjust="spacingAndGlyphs">(</tspan> <tspan x="64.50" y="0.60" font-size="13.80" stroke-width="0.32" textLength="51.10" lengthAdjust="spacingAndGlyphs">pg/ml</tspan><tspan x="116.10" y="0.60" font-size="13.80" stroke-width="0.1" textLength="6.60" lengthAdjust="spacingAndGlyphs">)</tspan></text>
<line x1="57.40" y1="493.70" x2="57.40" y2="509.60" stroke="#000" stroke-width="1.9"/>
<line x1="53.30" y1="493.70" x2="61.50" y2="493.70" stroke="#000" stroke-width="2.3"/>
<rect x="48.57" y="509.83" width="17.65" height="186.07" fill="none" stroke="#000" stroke-width="2.45"/>
<line x1="83.67" y1="559.00" x2="83.67" y2="565.50" stroke="#000" stroke-width="1.9"/>
<line x1="79.57" y1="559.00" x2="87.77" y2="559.00" stroke="#000" stroke-width="2.3"/>
<clipPath id="c13"><rect x="75.07" y="565.95" width="17.20" height="129.95"/></clipPath>
<g clip-path="url(#c13)">
<path d="M76.07,565.20H91.27 M76.07,572.30H91.27 M76.07,579.40H91.27 M76.07,586.50H91.27 M76.07,593.60H91.27 M76.07,600.70H91.27 M76.07,607.80H91.27 M76.07,614.90H91.27 M76.07,622.00H91.27 M76.07,629.10H91.27 M76.07,636.20H91.27 M76.07,643.30H91.27 M76.07,650.40H91.27 M76.07,657.50H91.27 M76.07,664.60H91.27 M76.07,671.70H91.27 M76.07,678.80H91.27 M76.07,685.90H91.27 M76.07,693.00H91.27" stroke="#383838" stroke-width="1.5" fill="none"/>
</g>
<rect x="74.84" y="565.73" width="17.65" height="130.17" fill="none" stroke="#000" stroke-width="2.45"/>
<line x1="109.94" y1="522.70" x2="109.94" y2="534.10" stroke="#000" stroke-width="1.9"/>
<line x1="105.84" y1="522.70" x2="114.04" y2="522.70" stroke="#000" stroke-width="2.3"/>
<clipPath id="c14"><rect x="101.34" y="534.55" width="17.20" height="161.35"/></clipPath>
<g clip-path="url(#c14)">
<path d="M105.53,535.55V695.90 M109.94,535.55V695.90 M114.35,535.55V695.90" stroke="#707070" stroke-width="1.2" fill="none"/>
</g>
<rect x="101.11" y="534.33" width="17.65" height="161.57" fill="none" stroke="#000" stroke-width="2.45"/>
<line x1="136.21" y1="518.20" x2="136.21" y2="524.50" stroke="#000" stroke-width="1.9"/>
<line x1="132.11" y1="518.20" x2="140.31" y2="518.20" stroke="#000" stroke-width="2.3"/>
<rect x="127.39" y="524.73" width="17.65" height="171.17" fill="none" stroke="#000" stroke-width="2.45"/>
<line x1="162.48" y1="535.50" x2="162.48" y2="538.50" stroke="#000" stroke-width="1.9"/>
<line x1="158.38" y1="535.50" x2="166.58" y2="535.50" stroke="#000" stroke-width="2.3"/>
<rect x="153.65" y="538.73" width="17.65" height="157.17" fill="none" stroke="#000" stroke-width="2.45"/>
<line x1="188.75" y1="551.00" x2="188.75" y2="556.20" stroke="#000" stroke-width="1.9"/>
<line x1="184.65" y1="551.00" x2="192.85" y2="551.00" stroke="#000" stroke-width="2.3"/>
<clipPath id="c17"><rect x="180.15" y="556.65" width="17.20" height="139.25"/></clipPath>
<g clip-path="url(#c17)">
<path d="M182.02,557.65V695.90 M186.97,557.65V695.90 M191.92,557.65V695.90" stroke="#cfcfcf" stroke-width="0.8" fill="none"/>
<path d="M181.15,558.32H196.35 M181.15,565.47H196.35 M181.15,572.62H196.35 M181.15,579.77H196.35 M181.15,586.92H196.35 M181.15,594.07H196.35 M181.15,601.22H196.35 M181.15,608.37H196.35 M181.15,615.52H196.35 M181.15,622.67H196.35 M181.15,629.82H196.35 M181.15,636.97H196.35 M181.15,644.12H196.35 M181.15,651.27H196.35 M181.15,658.42H196.35 M181.15,665.57H196.35 M181.15,672.72H196.35 M181.15,679.87H196.35 M181.15,687.02H196.35 M181.15,694.17H196.35" stroke="#d6d6d6" stroke-width="0.8" fill="none"/>
<path d="M184.50,557.65V695.90 M189.45,557.65V695.90 M194.40,557.65V695.90" stroke="#333" stroke-width="1.25" fill="none"/>
<path d="M181.15,561.90H196.35 M181.15,569.05H196.35 M181.15,576.20H196.35 M181.15,583.35H196.35 M181.15,590.50H196.35 M181.15,597.65H196.35 M181.15,604.80H196.35 M181.15,611.95H196.35 M181.15,619.10H196.35 M181.15,626.25H196.35 M181.15,633.40H196.35 M181.15,640.55H196.35 M181.15,647.70H196.35 M181.15,654.85H196.35 M181.15,662.00H196.35 M181.15,669.15H196.35 M181.15,676.30H196.35 M181.15,683.45H196.35 M181.15,690.60H196.35" stroke="#1a1a1a" stroke-width="1.45" fill="none"/>
</g>
<rect x="179.92" y="556.43" width="17.65" height="139.47" fill="none" stroke="#000" stroke-width="2.45"/>
<line x1="215.02" y1="542.10" x2="215.02" y2="552.50" stroke="#000" stroke-width="1.9"/>
<line x1="210.92" y1="542.10" x2="219.12" y2="542.10" stroke="#000" stroke-width="2.3"/>
<clipPath id="c18"><rect x="206.42" y="552.95" width="17.20" height="142.95"/></clipPath>
<g clip-path="url(#c18)">
<rect x="206.42" y="552.95" width="17.20" height="142.95" fill="#000"/>
<path d="M204.26,552.70l1.71,-3.60 M208.06,552.70l1.71,-3.60 M211.86,552.70l1.71,-3.60 M215.66,552.70l1.71,-3.60 M219.46,552.70l1.71,-3.60 M223.26,552.70l1.71,-3.60 M204.26,558.50l1.71,-3.60 M208.06,558.50l1.71,-3.60 M211.86,558.50l1.71,-3.60 M215.66,558.50l1.71,-3.60 M219.46,558.50l1.71,-3.60 M223.26,558.50l1.71,-3.60 M204.26,564.30l1.71,-3.60 M208.06,564.30l1.71,-3.60 M211.86,564.30l1.71,-3.60 M215.66,564.30l1.71,-3.60 M219.46,564.30l1.71,-3.60 M223.26,564.30l1.71,-3.60 M204.26,570.10l1.71,-3.60 M208.06,570.10l1.71,-3.60 M211.86,570.10l1.71,-3.60 M215.66,570.10l1.71,-3.60 M219.46,570.10l1.71,-3.60 M223.26,570.10l1.71,-3.60 M204.26,575.90l1.71,-3.60 M208.06,575.90l1.71,-3.60 M211.86,575.90l1.71,-3.60 M215.66,575.90l1.71,-3.60 M219.46,575.90l1.71,-3.60 M223.26,575.90l1.71,-3.60 M204.26,581.70l1.71,-3.60 M208.06,581.70l1.71,-3.60 M211.86,581.70l1.71,-3.60 M215.66,581.70l1.71,-3.60 M219.46,581.70l1.71,-3.60 M223.26,581.70l1.71,-3.60 M204.26,587.50l1.71,-3.60 M208.06,587.50l1.71,-3.60 M211.86,587.50l1.71,-3.60 M215.66,587.50l1.71,-3.60 M219.46,587.50l1.71,-3.60 M223.26,587.50l1.71,-3.60 M204.26,593.30l1.71,-3.60 M208.06,593.30l1.71,-3.60 M211.86,593.30l1.71,-3.60 M215.66,593.30l1.71,-3.60 M219.46,593.30l1.71,-3.60 M223.26,593.30l1.71,-3.60 M204.26,599.10l1.71,-3.60 M208.06,599.10l1.71,-3.60 M211.86,599.10l1.71,-3.60 M215.66,599.10l1.71,-3.60 M219.46,599.10l1.71,-3.60 M223.26,599.10l1.71,-3.60 M204.26,604.90l1.71,-3.60 M208.06,604.90l1.71,-3.60 M211.86,604.90l1.71,-3.60 M215.66,604.90l1.71,-3.60 M219.46,604.90l1.71,-3.60 M223.26,604.90l1.71,-3.60 M204.26,610.70l1.71,-3.60 M208.06,610.70l1.71,-3.60 M211.86,610.70l1.71,-3.60 M215.66,610.70l1.71,-3.60 M219.46,610.70l1.71,-3.60 M223.26,610.70l1.71,-3.60 M204.26,616.50l1.71,-3.60 M208.06,616.50l1.71,-3.60 M211.86,616.50l1.71,-3.60 M215.66,616.50l1.71,-3.60 M219.46,616.50l1.71,-3.60 M223.26,616.50l1.71,-3.60 M204.26,622.30l1.71,-3.60 M208.06,622.30l1.71,-3.60 M211.86,622.30l1.71,-3.60 M215.66,622.30l1.71,-3.60 M219.46,622.30l1.71,-3.60 M223.26,622.30l1.71,-3.60 M204.26,628.10l1.71,-3.60 M208.06,628.10l1.71,-3.60 M211.86,628.10l1.71,-3.60 M215.66,628.10l1.71,-3.60 M219.46,628.10l1.71,-3.60 M223.26,628.10l1.71,-3.60 M204.26,633.90l1.71,-3.60 M208.06,633.90l1.71,-3.60 M211.86,633.90l1.71,-3.60 M215.66,633.90l1.71,-3.60 M219.46,633.90l1.71,-3.60 M223.26,633.90l1.71,-3.60 M204.26,639.70l1.71,-3.60 M208.06,639.70l1.71,-3.60 M211.86,639.70l1.71,-3.60 M215.66,639.70l1.71,-3.60 M219.46,639.70l1.71,-3.60 M223.26,639.70l1.71,-3.60 M204.26,645.50l1.71,-3.60 M208.06,645.50l1.71,-3.60 M211.86,645.50l1.71,-3.60 M215.66,645.50l1.71,-3.60 M219.46,645.50l1.71,-3.60 M223.26,645.50l1.71,-3.60 M204.26,651.30l1.71,-3.60 M208.06,651.30l1.71,-3.60 M211.86,651.30l1.71,-3.60 M215.66,651.30l1.71,-3.60 M219.46,651.30l1.71,-3.60 M223.26,651.30l1.71,-3.60 M204.26,657.10l1.71,-3.60 M208.06,657.10l1.71,-3.60 M211.86,657.10l1.71,-3.60 M215.66,657.10l1.71,-3.60 M219.46,657.10l1.71,-3.60 M223.26,657.10l1.71,-3.60 M204.26,662.90l1.71,-3.60 M208.06,662.90l1.71,-3.60 M211.86,662.90l1.71,-3.60 M215.66,662.90l1.71,-3.60 M219.46,662.90l1.71,-3.60 M223.26,662.90l1.71,-3.60 M204.26,668.70l1.71,-3.60 M208.06,668.70l1.71,-3.60 M211.86,668.70l1.71,-3.60 M215.66,668.70l1.71,-3.60 M219.46,668.70l1.71,-3.60 M223.26,668.70l1.71,-3.60 M204.26,674.50l1.71,-3.60 M208.06,674.50l1.71,-3.60 M211.86,674.50l1.71,-3.60 M215.66,674.50l1.71,-3.60 M219.46,674.50l1.71,-3.60 M223.26,674.50l1.71,-3.60 M204.26,680.30l1.71,-3.60 M208.06,680.30l1.71,-3.60 M211.86,680.30l1.71,-3.60 M215.66,680.30l1.71,-3.60 M219.46,680.30l1.71,-3.60 M223.26,680.30l1.71,-3.60 M204.26,686.10l1.71,-3.60 M208.06,686.10l1.71,-3.60 M211.86,686.10l1.71,-3.60 M215.66,686.10l1.71,-3.60 M219.46,686.10l1.71,-3.60 M223.26,686.10l1.71,-3.60 M204.26,691.90l1.71,-3.60 M208.06,691.90l1.71,-3.60 M211.86,691.90l1.71,-3.60 M215.66,691.90l1.71,-3.60 M219.46,691.90l1.71,-3.60 M223.26,691.90l1.71,-3.60 M204.26,697.70l1.71,-3.60 M208.06,697.70l1.71,-3.60 M211.86,697.70l1.71,-3.60 M215.66,697.70l1.71,-3.60 M219.46,697.70l1.71,-3.60 M223.26,697.70l1.71,-3.60 M204.26,703.50l1.71,-3.60 M208.06,703.50l1.71,-3.60 M211.86,703.50l1.71,-3.60 M215.66,703.50l1.71,-3.60 M219.46,703.50l1.71,-3.60 M223.26,703.50l1.71,-3.60" stroke="#fff" stroke-width="2.4" stroke-linecap="round" fill="none"/>
</g>
<rect x="206.19" y="552.73" width="17.65" height="143.17" fill="none" stroke="#000" stroke-width="2.45"/>
<line x1="241.29" y1="552.00" x2="241.29" y2="555.60" stroke="#000" stroke-width="1.9"/>
<line x1="237.19" y1="552.00" x2="245.39" y2="552.00" stroke="#000" stroke-width="2.3"/>
<clipPath id="c19"><rect x="232.69" y="556.05" width="17.20" height="139.85"/></clipPath>
<g clip-path="url(#c19)">
<path d="M232.69,534.80L249.89,558.48 M232.69,546.50L249.89,570.18 M232.69,558.20L249.89,581.88 M232.69,569.90L249.89,593.58 M232.69,581.60L249.89,605.28 M232.69,593.30L249.89,616.98 M232.69,605.00L249.89,628.68 M232.69,616.70L249.89,640.38 M232.69,628.40L249.89,652.08 M232.69,640.10L249.89,663.78 M232.69,651.80L249.89,675.48 M232.69,663.50L249.89,687.18 M232.69,675.20L249.89,698.88 M232.69,686.90L249.89,710.58" stroke="#000" stroke-width="2.9" fill="none"/>
</g>
<rect x="232.46" y="555.83" width="17.65" height="140.07" fill="none" stroke="#000" stroke-width="2.45"/>
<line x1="267.56" y1="537.20" x2="267.56" y2="540.80" stroke="#000" stroke-width="1.9"/>
<line x1="263.46" y1="537.20" x2="271.66" y2="537.20" stroke="#000" stroke-width="2.3"/>
<clipPath id="c20"><rect x="258.96" y="541.25" width="17.20" height="154.65"/></clipPath>
<g clip-path="url(#c20)">
<rect x="258.96" y="541.25" width="17.20" height="154.65" fill="#000"/>
<path d="M260.06,533.60h3.6v6.0h-3.6z M265.81,533.60h3.6v6.0h-3.6z M271.56,533.60h3.6v6.0h-3.6z M260.06,542.95h3.6v6.0h-3.6z M265.81,542.95h3.6v6.0h-3.6z M271.56,542.95h3.6v6.0h-3.6z M260.06,552.30h3.6v6.0h-3.6z M265.81,552.30h3.6v6.0h-3.6z M271.56,552.30h3.6v6.0h-3.6z M260.06,561.65h3.6v6.0h-3.6z M265.81,561.65h3.6v6.0h-3.6z M271.56,561.65h3.6v6.0h-3.6z M260.06,571.00h3.6v6.0h-3.6z M265.81,571.00h3.6v6.0h-3.6z M271.56,571.00h3.6v6.0h-3.6z M260.06,580.35h3.6v6.0h-3.6z M265.81,580.35h3.6v6.0h-3.6z M271.56,580.35h3.6v6.0h-3.6z M260.06,589.70h3.6v6.0h-3.6z M265.81,589.70h3.6v6.0h-3.6z M271.56,589.70h3.6v6.0h-3.6z M260.06,599.05h3.6v6.0h-3.6z M265.81,599.05h3.6v6.0h-3.6z M271.56,599.05h3.6v6.0h-3.6z M260.06,608.40h3.6v6.0h-3.6z M265.81,608.40h3.6v6.0h-3.6z M271.56,608.40h3.6v6.0h-3.6z M260.06,617.75h3.6v6.0h-3.6z M265.81,617.75h3.6v6.0h-3.6z M271.56,617.75h3.6v6.0h-3.6z M260.06,627.10h3.6v6.0h-3.6z M265.81,627.10h3.6v6.0h-3.6z M271.56,627.10h3.6v6.0h-3.6z M260.06,636.45h3.6v6.0h-3.6z M265.81,636.45h3.6v6.0h-3.6z M271.56,636.45h3.6v6.0h-3.6z M260.06,645.80h3.6v6.0h-3.6z M265.81,645.80h3.6v6.0h-3.6z M271.56,645.80h3.6v6.0h-3.6z M260.06,655.15h3.6v6.0h-3.6z M265.81,655.15h3.6v6.0h-3.6z M271.56,655.15h3.6v6.0h-3.6z M260.06,664.50h3.6v6.0h-3.6z M265.81,664.50h3.6v6.0h-3.6z M271.56,664.50h3.6v6.0h-3.6z M260.06,673.85h3.6v6.0h-3.6z M265.81,673.85h3.6v6.0h-3.6z M271.56,673.85h3.6v6.0h-3.6z M260.06,683.20h3.6v6.0h-3.6z M265.81,683.20h3.6v6.0h-3.6z M271.56,683.20h3.6v6.0h-3.6z M260.06,692.55h3.6v6.0h-3.6z M265.81,692.55h3.6v6.0h-3.6z M271.56,692.55h3.6v6.0h-3.6z" fill="#fff"/>
</g>
<rect x="258.74" y="541.02" width="17.65" height="154.88" fill="none" stroke="#000" stroke-width="2.45"/>
<line x1="293.83" y1="545.00" x2="293.83" y2="547.50" stroke="#000" stroke-width="1.9"/>
<line x1="289.73" y1="545.00" x2="297.93" y2="545.00" stroke="#000" stroke-width="2.3"/>
<clipPath id="c21"><rect x="285.23" y="547.95" width="17.20" height="147.95"/></clipPath>
<g clip-path="url(#c21)">
<rect x="285.23" y="547.95" width="17.20" height="147.95" fill="#000"/>
<path d="M283.01,542.80L285.46,546.50L283.01,550.20L280.56,546.50Z M287.03,548.65L289.48,552.35L287.03,556.05L284.58,552.35Z M291.06,542.80L293.51,546.50L291.06,550.20L288.61,546.50Z M295.08,548.65L297.53,552.35L295.08,556.05L292.63,552.35Z M299.11,542.80L301.56,546.50L299.11,550.20L296.66,546.50Z M303.13,548.65L305.58,552.35L303.13,556.05L300.69,552.35Z M283.01,554.50L285.46,558.20L283.01,561.90L280.56,558.20Z M287.03,560.35L289.48,564.05L287.03,567.75L284.58,564.05Z M291.06,554.50L293.51,558.20L291.06,561.90L288.61,558.20Z M295.08,560.35L297.53,564.05L295.08,567.75L292.63,564.05Z M299.11,554.50L301.56,558.20L299.11,561.90L296.66,558.20Z M303.13,560.35L305.58,564.05L303.13,567.75L300.69,564.05Z M283.01,566.20L285.46,569.90L283.01,573.60L280.56,569.90Z M287.03,572.05L289.48,575.75L287.03,579.45L284.58,575.75Z M291.06,566.20L293.51,569.90L291.06,573.60L288.61,569.90Z M295.08,572.05L297.53,575.75L295.08,579.45L292.63,575.75Z M299.11,566.20L301.56,569.90L299.11,573.60L296.66,569.90Z M303.13,572.05L305.58,575.75L303.13,579.45L300.69,575.75Z M283.01,577.90L285.46,581.60L283.01,585.30L280.56,581.60Z M287.03,583.75L289.48,587.45L287.03,591.15L284.58,587.45Z M291.06,577.90L293.51,581.60L291.06,585.30L288.61,581.60Z M295.08,583.75L297.53,587.45L295.08,591.15L292.63,587.45Z M299.11,577.90L301.56,581.60L299.11,585.30L296.66,581.60Z M303.13,583.75L305.58,587.45L303.13,591.15L300.69,587.45Z M283.01,589.60L285.46,593.30L283.01,597.00L280.56,593.30Z M287.03,595.45L289.48,599.15L287.03,602.85L284.58,599.15Z M291.06,589.60L293.51,593.30L291.06,597.00L288.61,593.30Z M295.08,595.45L297.53,599.15L295.08,602.85L292.63,599.15Z M299.11,589.60L301.56,593.30L299.11,597.00L296.66,593.30Z M303.13,595.45L305.58,599.15L303.13,602.85L300.69,599.15Z M283.01,601.30L285.46,605.00L283.01,608.70L280.56,605.00Z M287.03,607.15L289.48,610.85L287.03,614.55L284.58,610.85Z M291.06,601.30L293.51,605.00L291.06,608.70L288.61,605.00Z M295.08,607.15L297.53,610.85L295.08,614.55L292.63,610.85Z M299.11,601.30L301.56,605.00L299.11,608.70L296.66,605.00Z M303.13,607.15L305.58,610.85L303.13,614.55L300.69,610.85Z M283.01,613.00L285.46,616.70L283.01,620.40L280.56,616.70Z M287.03,618.85L289.48,622.55L287.03,626.25L284.58,622.55Z M291.06,613.00L293.51,616.70L291.06,620.40L288.61,616.70Z M295.08,618.85L297.53,622.55L295.08,626.25L292.63,622.55Z M299.11,613.00L301.56,616.70L299.11,620.40L296.66,616.70Z M303.13,618.85L305.58,622.55L303.13,626.25L300.69,622.55Z M283.01,624.70L285.46,628.40L283.01,632.10L280.56,628.40Z M287.03,630.55L289.48,634.25L287.03,637.95L284.58,634.25Z M291.06,624.70L293.51,628.40L291.06,632.10L288.61,628.40Z M295.08,630.55L297.53,634.25L295.08,637.95L292.63,634.25Z M299.11,624.70L301.56,628.40L299.11,632.10L296.66,628.40Z M303.13,630.55L305.58,634.25L303.13,637.95L300.69,634.25Z M283.01,636.40L285.46,640.10L283.01,643.80L280.56,640.10Z M287.03,642.25L289.48,645.95L287.03,649.65L284.58,645.95Z M291.06,636.40L293.51,640.10L291.06,643.80L288.61,640.10Z M295.08,642.25L297.53,645.95L295.08,649.65L292.63,645.95Z M299.11,636.40L301.56,640.10L299.11,643.80L296.66,640.10Z M303.13,642.25L305.58,645.95L303.13,649.65L300.69,645.95Z M283.01,648.10L285.46,651.80L283.01,655.50L280.56,651.80Z M287.03,653.95L289.48,657.65L287.03,661.35L284.58,657.65Z M291.06,648.10L293.51,651.80L291.06,655.50L288.61,651.80Z M295.08,653.95L297.53,657.65L295.08,661.35L292.63,657.65Z M299.11,648.10L301.56,651.80L299.11,655.50L296.66,651.80Z M303.13,653.95L305.58,657.65L303.13,661.35L300.69,657.65Z M283.01,659.80L285.46,663.50L283.01,667.20L280.56,663.50Z M287.03,665.65L289.48,669.35L287.03,673.05L284.58,669.35Z M291.06,659.80L293.51,663.50L291.06,667.20L288.61,663.50Z M295.08,665.65L297.53,669.35L295.08,673.05L292.63,669.35Z M299.11,659.80L301.56,663.50L299.11,667.20L296.66,663.50Z M303.13,665.65L305.58,669.35L303.13,673.05L300.69,669.35Z M283.01,671.50L285.46,675.20L283.01,678.90L280.56,675.20Z M287.03,677.35L289.48,681.05L287.03,684.75L284.58,681.05Z M291.06,671.50L293.51,675.20L291.06,678.90L288.61,675.20Z M295.08,677.35L297.53,681.05L295.08,684.75L292.63,681.05Z M299.11,671.50L301.56,675.20L299.11,678.90L296.66,675.20Z M303.13,677.35L305.58,681.05L303.13,684.75L300.69,681.05Z M283.01,683.20L285.46,686.90L283.01,690.60L280.56,686.90Z M287.03,689.05L289.48,692.75L287.03,696.45L284.58,692.75Z M291.06,683.20L293.51,686.90L291.06,690.60L288.61,686.90Z M295.08,689.05L297.53,692.75L295.08,696.45L292.63,692.75Z M299.11,683.20L301.56,686.90L299.11,690.60L296.66,686.90Z M303.13,689.05L305.58,692.75L303.13,696.45L300.69,692.75Z M283.01,694.90L285.46,698.60L283.01,702.30L280.56,698.60Z M287.03,700.75L289.48,704.45L287.03,708.15L284.58,704.45Z M291.06,694.90L293.51,698.60L291.06,702.30L288.61,698.60Z M295.08,700.75L297.53,704.45L295.08,708.15L292.63,704.45Z M299.11,694.90L301.56,698.60L299.11,702.30L296.66,698.60Z M303.13,700.75L305.58,704.45L303.13,708.15L300.69,704.45Z" fill="#fff"/>
</g>
<rect x="285.00" y="547.73" width="17.65" height="148.17" fill="none" stroke="#000" stroke-width="2.45"/>
<line x1="320.10" y1="539.40" x2="320.10" y2="543.20" stroke="#000" stroke-width="1.9"/>
<line x1="316.00" y1="539.40" x2="324.20" y2="539.40" stroke="#000" stroke-width="2.3"/>
<clipPath id="c22"><rect x="311.50" y="543.65" width="17.20" height="152.25"/></clipPath>
<g clip-path="url(#c22)">
<rect x="311.50" y="543.65" width="17.20" height="152.25" fill="#000"/>
<path d="M312.50,541.89H327.70 M312.50,546.75H327.70 M312.50,551.61H327.70 M312.50,556.47H327.70 M312.50,561.33H327.70 M312.50,566.19H327.70 M312.50,571.05H327.70 M312.50,575.91H327.70 M312.50,580.77H327.70 M312.50,585.63H327.70 M312.50,590.49H327.70 M312.50,595.35H327.70 M312.50,600.21H327.70 M312.50,605.07H327.70 M312.50,609.93H327.70 M312.50,614.79H327.70 M312.50,619.65H327.70 M312.50,624.51H327.70 M312.50,629.37H327.70 M312.50,634.23H327.70 M312.50,639.09H327.70 M312.50,643.95H327.70 M312.50,648.81H327.70 M312.50,653.67H327.70 M312.50,658.53H327.70 M312.50,663.39H327.70 M312.50,668.25H327.70 M312.50,673.11H327.70 M312.50,677.97H327.70 M312.50,682.83H327.70 M312.50,687.69H327.70 M312.50,692.55H327.70" stroke="#f4f4f4" stroke-width="1.2" fill="none"/>
<path d="M306.20,541.89v4.86 M312.50,541.89v4.86 M318.80,541.89v4.86 M325.10,541.89v4.86 M331.40,541.89v4.86 M309.35,546.75v4.86 M315.65,546.75v4.86 M321.95,546.75v4.86 M328.25,546.75v4.86 M306.20,551.61v4.86 M312.50,551.61v4.86 M318.80,551.61v4.86 M325.10,551.61v4.86 M331.40,551.61v4.86 M309.35,556.47v4.86 M315.65,556.47v4.86 M321.95,556.47v4.86 M328.25,556.47v4.86 M306.20,561.33v4.86 M312.50,561.33v4.86 M318.80,561.33v4.86 M325.10,561.33v4.86 M331.40,561.33v4.86 M309.35,566.19v4.86 M315.65,566.19v4.86 M321.95,566.19v4.86 M328.25,566.19v4.86 M306.20,571.05v4.86 M312.50,571.05v4.86 M318.80,571.05v4.86 M325.10,571.05v4.86 M331.40,571.05v4.86 M309.35,575.91v4.86 M315.65,575.91v4.86 M321.95,575.91v4.86 M328.25,575.91v4.86 M306.20,580.77v4.86 M312.50,580.77v4.86 M318.80,580.77v4.86 M325.10,580.77v4.86 M331.40,580.77v4.86 M309.35,585.63v4.86 M315.65,585.63v4.86 M321.95,585.63v4.86 M328.25,585.63v4.86 M306.20,590.49v4.86 M312.50,590.49v4.86 M318.80,590.49v4.86 M325.10,590.49v4.86 M331.40,590.49v4.86 M309.35,595.35v4.86 M315.65,595.35v4.86 M321.95,595.35v4.86 M328.25,595.35v4.86 M306.20,600.21v4.86 M312.50,600.21v4.86 M318.80,600.21v4.86 M325.10,600.21v4.86 M331.40,600.21v4.86 M309.35,605.07v4.86 M315.65,605.07v4.86 M321.95,605.07v4.86 M328.25,605.07v4.86 M306.20,609.93v4.86 M312.50,609.93v4.86 M318.80,609.93v4.86 M325.10,609.93v4.86 M331.40,609.93v4.86 M309.35,614.79v4.86 M315.65,614.79v4.86 M321.95,614.79v4.86 M328.25,614.79v4.86 M306.20,619.65v4.86 M312.50,619.65v4.86 M318.80,619.65v4.86 M325.10,619.65v4.86 M331.40,619.65v4.86 M309.35,624.51v4.86 M315.65,624.51v4.86 M321.95,624.51v4.86 M328.25,624.51v4.86 M306.20,629.37v4.86 M312.50,629.37v4.86 M318.80,629.37v4.86 M325.10,629.37v4.86 M331.40,629.37v4.86 M309.35,634.23v4.86 M315.65,634.23v4.86 M321.95,634.23v4.86 M328.25,634.23v4.86 M306.20,639.09v4.86 M312.50,639.09v4.86 M318.80,639.09v4.86 M325.10,639.09v4.86 M331.40,639.09v4.86 M309.35,643.95v4.86 M315.65,643.95v4.86 M321.95,643.95v4.86 M328.25,643.95v4.86 M306.20,648.81v4.86 M312.50,648.81v4.86 M318.80,648.81v4.86 M325.10,648.81v4.86 M331.40,648.81v4.86 M309.35,653.67v4.86 M315.65,653.67v4.86 M321.95,653.67v4.86 M328.25,653.67v4.86 M306.20,658.53v4.86 M312.50,658.53v4.86 M318.80,658.53v4.86 M325.10,658.53v4.86 M331.40,658.53v4.86 M309.35,663.39v4.86 M315.65,663.39v4.86 M321.95,663.39v4.86 M328.25,663.39v4.86 M306.20,668.25v4.86 M312.50,668.25v4.86 M318.80,668.25v4.86 M325.10,668.25v4.86 M331.40,668.25v4.86 M309.35,673.11v4.86 M315.65,673.11v4.86 M321.95,673.11v4.86 M328.25,673.11v4.86 M306.20,677.97v4.86 M312.50,677.97v4.86 M318.80,677.97v4.86 M325.10,677.97v4.86 M331.40,677.97v4.86 M309.35,682.83v4.86 M315.65,682.83v4.86 M321.95,682.83v4.86 M328.25,682.83v4.86 M306.20,687.69v4.86 M312.50,687.69v4.86 M318.80,687.69v4.86 M325.10,687.69v4.86 M331.40,687.69v4.86 M309.35,692.55v4.86 M315.65,692.55v4.86 M321.95,692.55v4.86 M328.25,692.55v4.86" stroke="#f4f4f4" stroke-width="1.2" fill="none"/>
</g>
<rect x="311.27" y="543.43" width="17.65" height="152.47" fill="none" stroke="#000" stroke-width="2.45"/>
<line x1="44.30" y1="460.40" x2="44.30" y2="697.00" stroke="#000" stroke-width="2.1"/>
<line x1="43.25" y1="695.90" x2="335.40" y2="695.90" stroke="#000" stroke-width="2.3"/>
<line x1="39.50" y1="461.40" x2="44.30" y2="461.40" stroke="#000" stroke-width="2.0"/>
<text x="19.90" y="465.40" font-size="16.60" font-weight="bold" fill="#111" textLength="17.60" lengthAdjust="spacingAndGlyphs">500</text>
<line x1="39.50" y1="508.20" x2="44.30" y2="508.20" stroke="#000" stroke-width="2.0"/>
<text x="19.90" y="512.20" font-size="16.60" font-weight="bold" fill="#111" textLength="17.60" lengthAdjust="spacingAndGlyphs">400</text>
<line x1="39.50" y1="555.20" x2="44.30" y2="555.20" stroke="#000" stroke-width="2.0"/>
<text x="19.90" y="559.20" font-size="16.60" font-weight="bold" fill="#111" textLength="17.60" lengthAdjust="spacingAndGlyphs">300</text>
<line x1="39.50" y1="602.10" x2="44.30" y2="602.10" stroke="#000" stroke-width="2.0"/>
<text x="19.90" y="606.10" font-size="16.60" font-weight="bold" fill="#111" textLength="17.60" lengthAdjust="spacingAndGlyphs">200</text>
<line x1="39.50" y1="648.90" x2="44.30" y2="648.90" stroke="#000" stroke-width="2.0"/>
<text x="19.90" y="652.90" font-size="16.60" font-weight="bold" fill="#111" textLength="17.60" lengthAdjust="spacingAndGlyphs">100</text>
<line x1="39.50" y1="695.90" x2="44.30" y2="695.90" stroke="#000" stroke-width="2.0"/>
<text x="31.30" y="699.90" font-size="16.60" font-weight="bold" fill="#111" textLength="6.20" lengthAdjust="spacingAndGlyphs">0</text>
<line x1="57.30" y1="695.90" x2="57.30" y2="702.70" stroke="#000" stroke-width="1.9"/>
<line x1="83.00" y1="695.90" x2="83.00" y2="702.70" stroke="#000" stroke-width="1.9"/>
<line x1="110.00" y1="695.90" x2="110.00" y2="702.70" stroke="#000" stroke-width="1.9"/>
<line x1="136.20" y1="695.90" x2="136.20" y2="702.70" stroke="#000" stroke-width="1.9"/>
<line x1="162.60" y1="695.90" x2="162.60" y2="702.70" stroke="#000" stroke-width="1.9"/>
<line x1="188.50" y1="695.90" x2="188.50" y2="702.70" stroke="#000" stroke-width="1.9"/>
<line x1="214.80" y1="695.90" x2="214.80" y2="702.70" stroke="#000" stroke-width="1.9"/>
<line x1="241.50" y1="695.90" x2="241.50" y2="702.70" stroke="#000" stroke-width="1.9"/>
<line x1="267.40" y1="695.90" x2="267.40" y2="702.70" stroke="#000" stroke-width="1.9"/>
<line x1="293.80" y1="695.90" x2="293.80" y2="702.70" stroke="#000" stroke-width="1.9"/>
<line x1="320.10" y1="695.90" x2="320.10" y2="702.70" stroke="#000" stroke-width="1.9"/>
<text x="54.20" y="716.00" font-size="14.20" font-weight="bold" fill="#1a1a1a" textLength="5.40" lengthAdjust="spacingAndGlyphs" stroke="#1a1a1a" stroke-width="0.25">C</text>
<text x="80.20" y="716.00" font-size="14.20" font-weight="bold" fill="#1a1a1a" textLength="5.10" lengthAdjust="spacingAndGlyphs" stroke="#1a1a1a" stroke-width="0.25">D</text>
<text x="104.00" y="716.00" font-size="14.20" font-weight="bold" fill="#1a1a1a" textLength="10.50" lengthAdjust="spacingAndGlyphs" stroke="#1a1a1a" stroke-width="0.25">50</text>
<text x="128.10" y="716.00" font-size="14.20" font-weight="bold" fill="#1a1a1a" textLength="14.50" lengthAdjust="spacingAndGlyphs" stroke="#1a1a1a" stroke-width="0.25">100</text>
<text x="154.20" y="716.00" font-size="14.20" font-weight="bold" fill="#1a1a1a" textLength="15.20" lengthAdjust="spacingAndGlyphs" stroke="#1a1a1a" stroke-width="0.25">200</text>
<text x="182.90" y="716.00" font-size="14.20" font-weight="bold" fill="#1a1a1a" textLength="10.00" lengthAdjust="spacingAndGlyphs" stroke="#1a1a1a" stroke-width="0.25">50</text>
<text x="206.80" y="716.00" font-size="14.20" font-weight="bold" fill="#1a1a1a" textLength="14.50" lengthAdjust="spacingAndGlyphs" stroke="#1a1a1a" stroke-width="0.25">100</text>
<text x="233.10" y="716.00" font-size="14.20" font-weight="bold" fill="#1a1a1a" textLength="14.50" lengthAdjust="spacingAndGlyphs" stroke="#1a1a1a" stroke-width="0.25">200</text>
<text x="262.00" y="716.00" font-size="14.20" font-weight="bold" fill="#1a1a1a" textLength="10.00" lengthAdjust="spacingAndGlyphs" stroke="#1a1a1a" stroke-width="0.25">50</text>
<text x="286.10" y="716.00" font-size="14.20" font-weight="bold" fill="#1a1a1a" textLength="14.50" lengthAdjust="spacingAndGlyphs" stroke="#1a1a1a" stroke-width="0.25">100</text>
<text x="312.20" y="716.00" font-size="14.20" font-weight="bold" fill="#1a1a1a" textLength="14.60" lengthAdjust="spacingAndGlyphs" stroke="#1a1a1a" stroke-width="0.25">200</text>
<text x="132.70" y="738.40" font-size="16.20" font-weight="normal" fill="#222" textLength="14.20" lengthAdjust="spacingAndGlyphs" stroke="#222" stroke-width="0.22">CE</text>
<text x="211.40" y="731.90" font-size="16.50" font-weight="normal" fill="#222" textLength="20.00" lengthAdjust="spacingAndGlyphs" stroke="#222" stroke-width="0.22">AqF</text>
<text x="288.20" y="735.30" font-size="16.50" font-weight="normal" fill="#222" textLength="20.40" lengthAdjust="spacingAndGlyphs" stroke="#222" stroke-width="0.22">EAF</text>
<line x1="102.70" y1="748.70" x2="172.60" y2="748.70" stroke="#444" stroke-width="1.5"/>
<line x1="184.90" y1="748.00" x2="252.60" y2="748.00" stroke="#444" stroke-width="1.5"/>
<line x1="265.80" y1="748.00" x2="331.30" y2="748.00" stroke="#444" stroke-width="1.5"/>
<text x="118.70" y="766.60" font-size="11.10" font-weight="normal" fill="#222" textLength="22.90" lengthAdjust="spacingAndGlyphs" stroke="#222" stroke-width="0.22">mg/kg</text>
<text x="210.50" y="767.00" font-size="10.30" font-weight="normal" fill="#222" textLength="22.30" lengthAdjust="spacingAndGlyphs" stroke="#222" stroke-width="0.22">mg/kg</text>
<text x="281.20" y="767.50" font-size="10.30" font-weight="normal" fill="#222" textLength="22.20" lengthAdjust="spacingAndGlyphs" stroke="#222" stroke-width="0.22">mg/kg</text>
<line x1="54.35" y1="438.50" x2="242.55" y2="438.50" stroke="#000" stroke-width="2.4"/>
<line x1="55.30" y1="438.30" x2="55.30" y2="483.50" stroke="#000" stroke-width="1.9"/>
<line x1="241.60" y1="438.30" x2="241.60" y2="533.80" stroke="#000" stroke-width="1.9"/>
<line x1="188.80" y1="438.30" x2="188.80" y2="540.80" stroke="#000" stroke-width="1.9"/>
<line x1="215.20" y1="439.50" x2="215.20" y2="527.50" stroke="#000" stroke-width="1.9"/>
<line x1="57.30" y1="469.00" x2="81.00" y2="469.00" stroke="#000" stroke-width="2.3"/>
<line x1="83.10" y1="475.00" x2="83.10" y2="553.20" stroke="#000" stroke-width="1.9"/>
<text x="69.90" y="460.90" font-size="21.00" font-weight="normal" fill="#222" textLength="9.60" lengthAdjust="spacingAndGlyphs" stroke="#222" stroke-width="0.28">**</text>
<text x="165.80" y="418.20" font-size="21.00" font-weight="normal" fill="#222" textLength="5.00" lengthAdjust="spacingAndGlyphs" stroke="#222" stroke-width="0.28">*</text>
<text transform="translate(10.40,643.30) rotate(-90)" fill="#111" stroke="#111" xml:space="preserve"><tspan x="0.00" y="0.00" font-size="13.40" stroke-width="0.32" textLength="37.10" lengthAdjust="spacingAndGlyphs">TNF</tspan> <tspan x="39.10" y="0.00" font-size="13.40" stroke-width="0.32" textLength="5.40" lengthAdjust="spacingAndGlyphs">-</tspan> <tspan x="51.80" y="1.00" font-size="13.60" stroke-width="0.32" textLength="13.50" lengthAdjust="spacingAndGlyphs">α</tspan><tspan x="64.50" y="0.60" font-size="12.80" stroke-width="0.1" textLength="7.60" lengthAdjust="spacingAndGlyphs">(</tspan><tspan x="71.50" y="0.60" font-size="12.80" stroke-width="0.32" textLength="49.80" lengthAdjust="spacingAndGlyphs">pg/ml</tspan><tspan x="120.70" y="0.60" font-size="12.80" stroke-width="0.1" textLength="7.30" lengthAdjust="spacingAndGlyphs">)</tspan></text>
</g>
</svg>
</body></html>
